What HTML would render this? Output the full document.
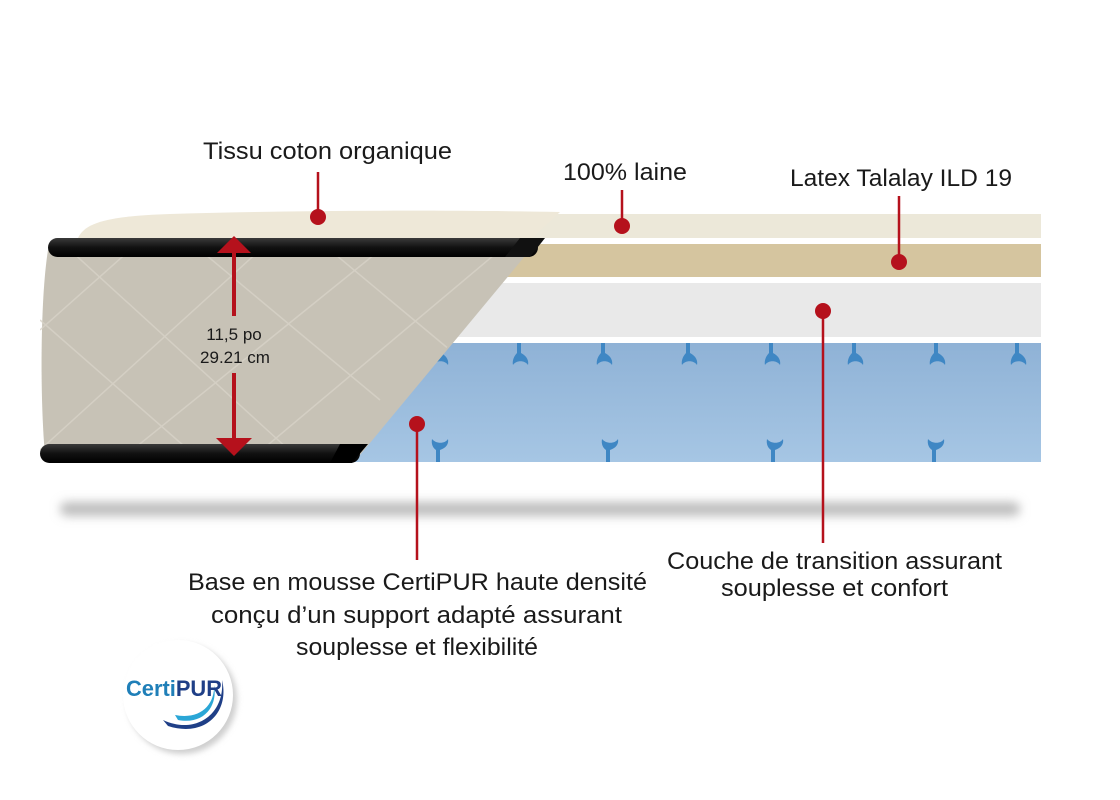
<!DOCTYPE html>
<html><head><meta charset="utf-8"><style>
html,body{margin:0;padding:0;background:#fff;}
svg{display:block;}
text{font-family:"Liberation Sans",Arial,sans-serif;fill:#1a1a1a;}
</style></head><body>
<svg width="1120" height="800" viewBox="0 0 1120 800" xmlns="http://www.w3.org/2000/svg">
<defs>
<filter id="blur" x="-10%" y="-200%" width="120%" height="500%"><feGaussianBlur stdDeviation="5"/></filter>
<filter id="blur2" x="-30%" y="-30%" width="160%" height="160%"><feGaussianBlur stdDeviation="3"/></filter>
<linearGradient id="blue" x1="0" y1="0" x2="0" y2="1"><stop offset="0" stop-color="#8fb2d6"/><stop offset="1" stop-color="#a6c6e4"/></linearGradient>
<linearGradient id="band" x1="0" y1="0" x2="0" y2="1"><stop offset="0" stop-color="#3a3a3a"/><stop offset="0.5" stop-color="#111"/><stop offset="1" stop-color="#000"/></linearGradient>
<clipPath id="right"><polygon points="555,205 1041,205 1041,465 350,465"/></clipPath>
<clipPath id="side"><polygon points="40,238 530,238 360,462 40,462"/></clipPath>
</defs>
<!-- shadow -->
<rect x="60" y="502" width="960" height="14" rx="7" fill="#bdbdbd" filter="url(#blur)"/>
<!-- right layers -->
<g clip-path="url(#right)">
<rect x="300" y="214" width="741" height="24" fill="#ece8d9"/>
<rect x="300" y="244" width="741" height="33" fill="#d5c59f"/>
<rect x="300" y="283" width="741" height="54" fill="#e9e9e9"/>
<rect x="300" y="343" width="741" height="119" fill="url(#blue)"/>
<g fill="#3f87c4">
<path d="M437,343 h4 v10 c6,3 8,8 7,12 c-3,-5 -12,-5 -15,0 c-1,-4 1,-9 4,-12z"/>
<path d="M517,343 h4 v10 c6,3 8,8 7,12 c-3,-5 -12,-5 -15,0 c-1,-4 1,-9 4,-12z"/>
<path d="M601,343 h4 v10 c6,3 8,8 7,12 c-3,-5 -12,-5 -15,0 c-1,-4 1,-9 4,-12z"/>
<path d="M686,343 h4 v10 c6,3 8,8 7,12 c-3,-5 -12,-5 -15,0 c-1,-4 1,-9 4,-12z"/>
<path d="M769,343 h4 v10 c6,3 8,8 7,12 c-3,-5 -12,-5 -15,0 c-1,-4 1,-9 4,-12z"/>
<path d="M852,343 h4 v10 c6,3 8,8 7,12 c-3,-5 -12,-5 -15,0 c-1,-4 1,-9 4,-12z"/>
<path d="M934,343 h4 v10 c6,3 8,8 7,12 c-3,-5 -12,-5 -15,0 c-1,-4 1,-9 4,-12z"/>
<path d="M1015,343 h4 v10 c6,3 8,8 7,12 c-3,-5 -12,-5 -15,0 c-1,-4 1,-9 4,-12z"/>
<path d="M436,462 h4 v-12 c6,-2 9,-6 8,-11 c-3,5 -12,5 -16,0 c-1,5 1,9 4,11z"/>
<path d="M606,462 h4 v-12 c6,-2 9,-6 8,-11 c-3,5 -12,5 -16,0 c-1,5 1,9 4,11z"/>
<path d="M771,462 h4 v-12 c6,-2 9,-6 8,-11 c-3,5 -12,5 -16,0 c-1,5 1,9 4,11z"/>
<path d="M932,462 h4 v-12 c6,-2 9,-6 8,-11 c-3,5 -12,5 -16,0 c-1,5 1,9 4,11z"/>
</g>
</g>
<!-- top quilt -->
<path d="M78,238 C85,222 110,216 170,214 C300,210 450,210 560,212 L530,240 Z" fill="#eee8d8"/>
<!-- side cover -->
<path d="M48,250 L530,250 L360,455 L45,455 C40,400 40,300 48,250Z" fill="#c7c2b6"/>
<g clip-path="url(#side)" stroke="#d8d3c8" stroke-width="1.5" fill="none" opacity="0.8">
<path d="M40,330 L130,250 M40,450 L260,250 M120,460 L380,250 M250,460 L500,250"/>
<path d="M70,250 L300,460 M200,250 L380,400 M40,320 L200,460 M330,250 L450,350"/>
</g>
<!-- bands -->
<rect x="48" y="238" width="490" height="19" rx="9.5" fill="url(#band)"/>
<polygon points="520,238 545,238 530,257 505,257" fill="#111"/>
<rect x="40" y="444" width="320" height="19" rx="9.5" fill="url(#band)"/>
<polygon points="340,444 368,444 352,463 330,463" fill="#000"/>
<!-- height arrow -->
<g fill="#b5111c" stroke="#b5111c">
<line x1="234" y1="250" x2="234" y2="316" stroke-width="4"/>
<line x1="234" y1="373" x2="234" y2="442" stroke-width="4"/>
<polygon points="234,236 251,253 217,253" stroke="none"/>
<polygon points="234,456 252,438 216,438" stroke="none"/>
</g>
<text x="234" y="340" font-size="17" text-anchor="middle">11,5 po</text>
<text x="235" y="363" font-size="17" text-anchor="middle">29.21 cm</text>
<!-- callout lines -->
<g stroke="#b5111c" stroke-width="2.5">
<line x1="318" y1="172" x2="318" y2="217"/>
<line x1="622" y1="190" x2="622" y2="226"/>
<line x1="899" y1="196" x2="899" y2="262"/>
<line x1="823" y1="311" x2="823" y2="543"/>
<line x1="417" y1="424" x2="417" y2="560"/>
</g>
<g fill="#b5111c">
<circle cx="318" cy="217" r="8"/><circle cx="622" cy="226" r="8"/><circle cx="899" cy="262" r="8"/>
<circle cx="823" cy="311" r="8"/><circle cx="417" cy="424" r="8"/>
</g>
<!-- labels -->
<g font-size="24">
<text x="203" y="159" textLength="249" lengthAdjust="spacingAndGlyphs">Tissu coton organique</text>
<text x="563" y="180" textLength="124" lengthAdjust="spacingAndGlyphs">100% laine</text>
<text x="790" y="186" textLength="222" lengthAdjust="spacingAndGlyphs">Latex Talalay ILD 19</text>
<text x="667" y="569" textLength="335" lengthAdjust="spacingAndGlyphs">Couche de transition assurant</text>
<text x="721" y="596" textLength="227" lengthAdjust="spacingAndGlyphs">souplesse et confort</text>
<text x="188" y="590" textLength="459" lengthAdjust="spacingAndGlyphs">Base en mousse CertiPUR haute densité</text>
<text x="211" y="623" textLength="411" lengthAdjust="spacingAndGlyphs">conçu d’un support adapté assurant</text>
<text x="296" y="655" textLength="242" lengthAdjust="spacingAndGlyphs">souplesse et flexibilité</text>
</g>
<!-- CertiPUR logo -->
<circle cx="182" cy="699" r="55" fill="#cfcfcf" filter="url(#blur2)"/>
<circle cx="178" cy="695" r="55" fill="#fff"/>
<path d="M163,720 C195,735 225,715 222,680 C230,712 205,738 168,726Z" fill="#1f3f87"/>
<path d="M175,715 C200,720 215,705 214,685 C218,705 205,725 178,720Z" fill="#2aa6d6"/>
<text x="126" y="696" font-size="22" font-weight="bold" style="fill:#1f7fb8" textLength="96" lengthAdjust="spacingAndGlyphs">Certi<tspan style="fill:#1f3f87">PUR</tspan></text>
</svg>
</body></html>
